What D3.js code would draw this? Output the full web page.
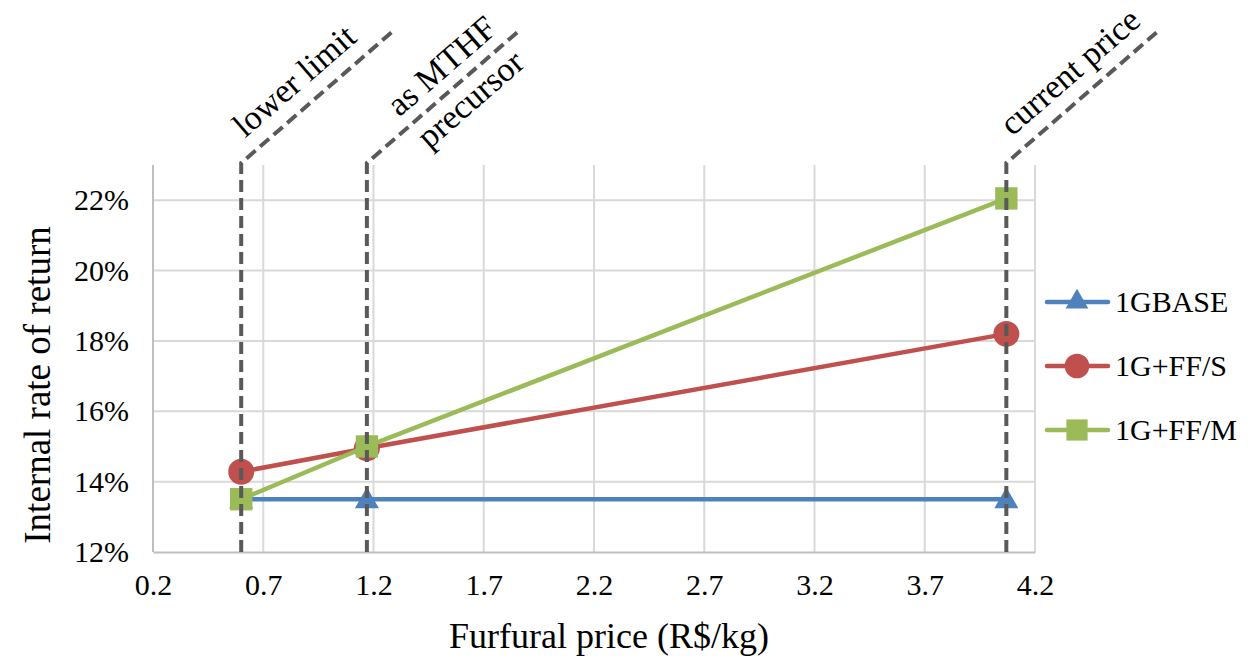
<!DOCTYPE html>
<html>
<head>
<meta charset="utf-8">
<script src="https://cdn.jsdelivr.net/npm/d3@7"></script>
<style>
  html, body { margin: 0; padding: 0; background: #fff; }
  svg { display: block; font-family: "Liberation Serif", "Times New Roman", serif; }
</style>
</head>
<body>
<svg id="chart" width="1254" height="661"></svg>
<script>
// Furfural price scenarios (R$/kg)
const prices = [0.6, 1.17, 4.07];
// Internal rate of return (%) for each configuration
const seriesNames = ["1GBASE", "1G+FF/S", "1G+FF/M"];
const irrBase = [13.5, 13.5, 13.5];
const irrFFS = [14.28, 14.95, 18.2];
const irrFFM = [13.5, 15.0, 22.05];
// Axis ticks
const xTicks = [0.2, 0.7, 1.2, 1.7, 2.2, 2.7, 3.2, 3.7, 4.2];
const yTicks = [12, 14, 16, 18, 20, 22];
// Price reference markers
const markerPrices = [0.6, 1.17, 4.07];
const markerLabels = [["lower limit"], ["as MTHF", "precursor"], ["current price"]];

const colors = ["#4F81BD", "#C0504D", "#9BBB59"];
const shapes = [d3.symbolTriangle, d3.symbolCircle, d3.symbolSquare];
const symbolSizes = [250, 530, 500];

const svg = d3.select("#chart");
const x = d3.scaleLinear().domain([0.2, 4.2]).range([153, 1035]);
const y = d3.scaleLinear().domain([12, 23]).range([552, 165]);

// Gridlines
const grid = svg.append("g");
grid.selectAll("line.v").data(xTicks.slice(1)).join("line")
  .attr("x1", d => x(d)).attr("x2", d => x(d))
  .attr("y1", y(23)).attr("y2", y(12))
  .attr("stroke", "#d9d9d9").attr("stroke-width", 2);
grid.selectAll("line.h").data(yTicks.slice(1)).join("line")
  .attr("x1", x(0.2)).attr("x2", x(4.2))
  .attr("y1", d => y(d)).attr("y2", d => y(d))
  .attr("stroke", "#d9d9d9").attr("stroke-width", 2);

// Axes
const xAxis = svg.append("g").attr("transform", `translate(0,${y(12)})`)
  .call(d3.axisBottom(x).tickValues(xTicks).tickSize(0).tickPadding(22)
    .tickFormat(d3.format(".1f")));
const yAxis = svg.append("g").attr("transform", `translate(${x(0.2)},0)`)
  .call(d3.axisLeft(y).tickValues(yTicks).tickSize(0).tickPadding(24)
    .tickFormat(d => d + "%"));
[xAxis, yAxis].forEach(a => {
  a.select(".domain").attr("stroke", "#bfbfbf").attr("stroke-width", 2);
  a.selectAll("text").attr("font-family", "Liberation Serif").attr("font-size", 30).attr("fill", "#000");
});
yAxis.select(".domain").attr("d", `M0,${y(23)}V${y(12)}`);

// Axis titles
svg.append("text")
  .attr("x", (x(0.2) + x(4.2)) / 2 + 15).attr("y", 648)
  .attr("text-anchor", "middle").attr("font-size", 36)
  .text("Furfural price (R$/kg)");
svg.append("text")
  .attr("transform", `translate(50,${385}) rotate(-90)`)
  .attr("text-anchor", "middle").attr("font-size", 37)
  .text("Internal rate of return");

// Series
const seriesData = [irrBase, irrFFS, irrFFM];
const line = d3.line().x((d, i) => x(prices[i])).y(d => y(d));
seriesData.forEach((vals, s) => {
  const g = svg.append("g");
  g.append("path").datum(vals)
    .attr("d", line).attr("fill", "none")
    .attr("stroke", colors[s]).attr("stroke-width", 4.5)
    .attr("stroke-linejoin", "round").attr("stroke-linecap", "round");
  g.selectAll("path.m").data(vals).join("path")
    .attr("class", "m")
    .attr("transform", (d, i) => `translate(${x(prices[i])},${y(d) + (s === 0 ? 2 : 0)})`)
    .attr("d", d3.symbol().type(shapes[s]).size(symbolSizes[s]))
    .attr("fill", colors[s]);
});

// Price reference lines with bent label leaders
const angle = 41;
const rad = angle * Math.PI / 180;
const leadLen = 205;
const bendY = y(23) - 2;
markerPrices.forEach((p, i) => {
  const bx = x(p);
  const ex = bx + leadLen * Math.cos(rad);
  const ey = bendY - leadLen * Math.sin(rad);
  svg.append("path")
    .attr("d", `M${bx},${y(12)}V${bendY}L${ex},${ey}`)
    .attr("fill", "none").attr("stroke", "#595959")
    .attr("stroke-width", 4).attr("stroke-dasharray", "12,6");
  const lines = markerLabels[i];
  const along = lines.length > 1 ? 120 : (i === 0 ? 94 : 108);
  const t = svg.append("g")
    .attr("transform", `translate(${bx},${bendY}) rotate(${-angle})`);
  if (lines.length === 1) {
    t.append("text").attr("x", along).attr("y", -16)
      .attr("text-anchor", "middle").attr("font-size", 34).text(lines[0]);
  } else {
    t.append("text").attr("x", along).attr("y", -13)
      .attr("text-anchor", "middle").attr("font-size", 34).text(lines[0]);
    t.append("text").attr("x", along).attr("y", 31)
      .attr("text-anchor", "middle").attr("font-size", 34).text(lines[1]);
  }
});

// Legend
const legend = svg.append("g");
seriesNames.forEach((name, s) => {
  const ly = 302 + s * 64;
  legend.append("line")
    .attr("x1", 1047).attr("x2", 1108).attr("y1", ly).attr("y2", ly)
    .attr("stroke", colors[s]).attr("stroke-width", 4.5).attr("stroke-linecap", "round");
  legend.append("path")
    .attr("transform", `translate(1077,${ly})`)
    .attr("d", d3.symbol().type(shapes[s]).size(symbolSizes[s] * 0.9))
    .attr("fill", colors[s]);
  legend.append("text")
    .attr("x", 1115).attr("y", ly + 10)
    .attr("font-size", 30).text(name);
});
</script>
</body>
</html>
